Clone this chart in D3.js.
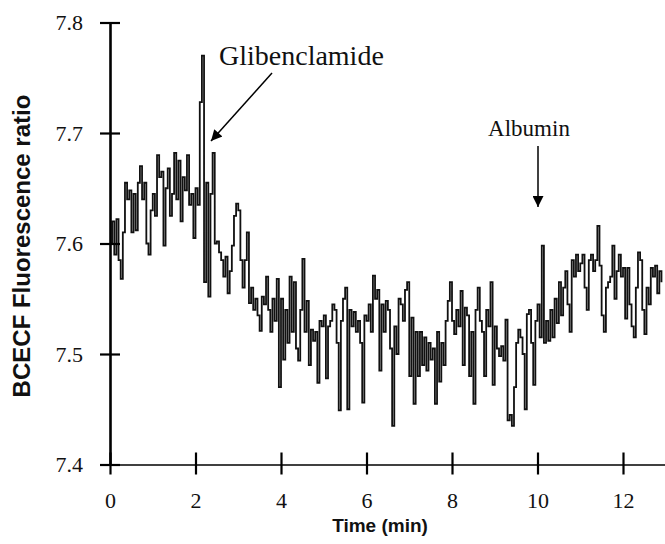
<!DOCTYPE html>
<html>
<head>
<meta charset="utf-8">
<script src="https://cdn.jsdelivr.net/npm/d3@7"></script>
<style>
  body { margin: 0; background: #fff }
  svg { display: block }
</style>
</head>
<body>
<svg></svg>
<script>

// BCECF ratio, one reading every 0.05 min, rows of one minute
let sampleStep = 0.05
let ratio = [
  7.600, 7.620, 7.590, 7.622, 7.585, 7.568, 7.610, 7.655, 7.640, 7.648, 7.610, 7.645, 7.612, 7.655, 7.670, 7.640, 7.655, 7.600, 7.590, 7.630,
  7.645, 7.625, 7.680, 7.660, 7.665, 7.598, 7.650, 7.668, 7.625, 7.645, 7.682, 7.640, 7.675, 7.620, 7.660, 7.648, 7.680, 7.635, 7.645, 7.605,
  7.650, 7.635, 7.728, 7.770, 7.565, 7.655, 7.552, 7.645, 7.682, 7.600, 7.602, 7.592, 7.585, 7.570, 7.588, 7.555, 7.575, 7.598, 7.625, 7.636,
  7.630, 7.585, 7.560, 7.585, 7.610, 7.546, 7.560, 7.540, 7.550, 7.535, 7.521, 7.552, 7.545, 7.570, 7.540, 7.520, 7.550, 7.530, 7.568, 7.470,
  7.550, 7.495, 7.540, 7.510, 7.570, 7.520, 7.565, 7.505, 7.494, 7.540, 7.586, 7.520, 7.548, 7.490, 7.522, 7.512, 7.520, 7.474, 7.530, 7.525,
  7.535, 7.478, 7.525, 7.530, 7.545, 7.540, 7.510, 7.449, 7.530, 7.550, 7.560, 7.450, 7.540, 7.525, 7.538, 7.520, 7.530, 7.510, 7.456, 7.535,
  7.530, 7.545, 7.520, 7.571, 7.550, 7.558, 7.485, 7.545, 7.520, 7.548, 7.540, 7.505, 7.435, 7.525, 7.500, 7.550, 7.545, 7.530, 7.558, 7.565,
  7.480, 7.533, 7.455, 7.520, 7.480, 7.520, 7.490, 7.515, 7.485, 7.510, 7.495, 7.505, 7.455, 7.520, 7.475, 7.510, 7.490, 7.530, 7.548, 7.565,
  7.530, 7.518, 7.540, 7.525, 7.557, 7.490, 7.542, 7.535, 7.480, 7.520, 7.455, 7.540, 7.560, 7.530, 7.520, 7.480, 7.540, 7.525, 7.565, 7.472,
  7.525, 7.505, 7.498, 7.507, 7.494, 7.531, 7.440, 7.445, 7.435, 7.470, 7.510, 7.522, 7.515, 7.500, 7.450, 7.536, 7.540, 7.510, 7.472, 7.530,
  7.545, 7.515, 7.598, 7.510, 7.530, 7.512, 7.540, 7.515, 7.550, 7.528, 7.565, 7.535, 7.560, 7.575, 7.545, 7.520, 7.585, 7.570, 7.590, 7.575,
  7.582, 7.590, 7.560, 7.540, 7.585, 7.590, 7.575, 7.585, 7.616, 7.580, 7.535, 7.520, 7.560, 7.565, 7.570, 7.598, 7.550, 7.575, 7.590, 7.570,
  7.578, 7.532, 7.578, 7.545, 7.525, 7.515, 7.560, 7.592, 7.585, 7.540, 7.518, 7.560, 7.545, 7.578, 7.570, 7.580, 7.555, 7.575, 7.565
]

let xTicks = [0, 2, 4, 6, 8, 10, 12]
let yTicks = [7.4, 7.5, 7.6, 7.7, 7.8]
let xTitle = 'Time (min)'
let yTitle = 'BCECF Fluorescence ratio'

let serif = "'Liberation Serif', 'Times New Roman', serif"
let sans = "'Liberation Sans', Arial, sans-serif"

let svg = d3.select('svg').attr('width', 665).attr('height', 544)

let x = d3.scaleLinear().domain([0, 13]).range([110, 665.75])
let y = d3.scaleLinear().domain([7.4, 7.8]).range([464.5, 22.5])

// trace, drawn as a stepped record like the chart recorder
let line = d3.line()
  .curve(d3.curveStepAfter)
  .x((d, i) => x(i * sampleStep))
  .y(d => y(d))

svg.append('path')
  .datum(ratio)
  .attr('fill', 'none')
  .attr('stroke', '#111')
  .attr('stroke-width', 1.8)
  .attr('d', line)

// y axis, ticks cross the line
let yAxis = svg.append('g')
  .attr('transform', 'translate(110,0)')
  .call(d3.axisLeft(y).tickValues(yTicks).tickFormat(d3.format('.1f')).tickSize(10).tickSizeOuter(0).tickPadding(17))

yAxis.select('.domain').attr('stroke', '#000').attr('stroke-width', 2.6)
yAxis.selectAll('.tick line').attr('x1', 10).attr('stroke', '#000').attr('stroke-width', 2.2)
yAxis.selectAll('.tick text')
  .attr('font-family', serif)
  .attr('font-size', 22)
  .attr('fill', '#111')

// x axis
let xAxis = svg.append('g')
  .attr('transform', 'translate(0,464.5)')
  .call(d3.axisBottom(x).tickValues(xTicks).tickSize(10).tickSizeOuter(0))

xAxis.select('.domain').attr('stroke', '#000').attr('stroke-width', 1.3)
xAxis.selectAll('.tick line').attr('y1', -12).attr('stroke', '#000').attr('stroke-width', 2.2)
xAxis.selectAll('.tick text')
  .attr('y', 43)
  .attr('dy', 0)
  .attr('font-family', serif)
  .attr('font-size', 22)
  .attr('fill', '#111')

// titles
svg.append('text')
  .attr('x', 380)
  .attr('y', 532)
  .attr('text-anchor', 'middle')
  .attr('font-family', sans)
  .attr('font-weight', 'bold')
  .attr('font-size', 19)
  .attr('fill', '#111')
  .text(xTitle)

svg.append('text')
  .attr('transform', 'translate(30,246) rotate(-90)')
  .attr('text-anchor', 'middle')
  .attr('font-family', sans)
  .attr('font-weight', 'bold')
  .attr('font-size', 24)
  .attr('fill', '#111')
  .text(yTitle)

// annotations
svg.append('defs').append('marker')
  .attr('id', 'head')
  .attr('viewBox', '0 0 10 10')
  .attr('refX', 10)
  .attr('refY', 5)
  .attr('markerUnits', 'userSpaceOnUse')
  .attr('markerWidth', 13)
  .attr('markerHeight', 11)
  .attr('orient', 'auto')
  .append('path')
  .attr('d', 'M0,0L10,5L0,10Z')
  .attr('fill', '#000')

svg.append('text')
  .attr('x', 219)
  .attr('y', 65)
  .attr('font-family', serif)
  .attr('font-size', 28)
  .attr('fill', '#111')
  .text('Glibenclamide')

svg.append('line')
  .attr('x1', 272).attr('y1', 73)
  .attr('x2', 211).attr('y2', 141)
  .attr('stroke', '#000')
  .attr('stroke-width', 1.5)
  .attr('marker-end', 'url(#head)')

svg.append('text')
  .attr('x', 529)
  .attr('y', 136)
  .attr('text-anchor', 'middle')
  .attr('font-family', serif)
  .attr('font-size', 23)
  .attr('fill', '#111')
  .text('Albumin')

svg.append('line')
  .attr('x1', 538).attr('y1', 146)
  .attr('x2', 538).attr('y2', 207)
  .attr('stroke', '#000')
  .attr('stroke-width', 1.5)
  .attr('marker-end', 'url(#head)')

</script>
</body>
</html>
